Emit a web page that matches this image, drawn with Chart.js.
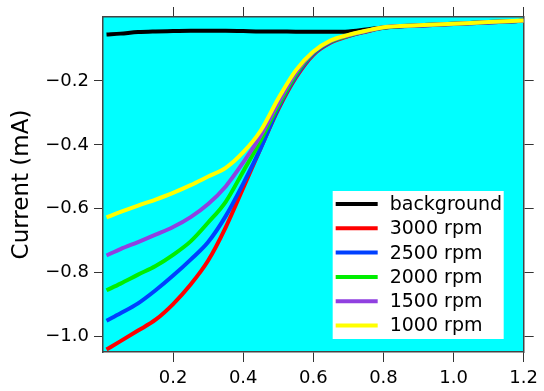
<!DOCTYPE html>
<html>
<head>
  <title>Current vs potential</title>
  <script src="https://cdn.jsdelivr.net/npm/chart.js"></script>
  <style>body { margin: 0; background: #fff; }</style>
</head>
<body>
  <canvas id="chart" width="544" height="391"></canvas>

  <script>
    // potential (x) and currents in mA
    const potential = [0.01, 0.05, 0.1, 0.15, 0.2, 0.25, 0.3, 0.35, 0.4, 0.45, 0.5, 0.55, 0.6, 0.65, 0.7, 0.75, 0.8, 0.9, 1.0, 1.1, 1.2];
    const background = [-0.055, -0.052, -0.047, -0.045, -0.044, -0.043, -0.043, -0.043, -0.044, -0.045, -0.045, -0.046, -0.046, -0.046, -0.045, -0.039, -0.033, -0.026, -0.021, -0.016, -0.012];
    const rpm3000 = [-1.040, -1.014, -0.981, -0.947, -0.898, -0.837, -0.762, -0.658, -0.535, -0.410, -0.289, -0.190, -0.118, -0.080, -0.060, -0.046, -0.034, -0.027, -0.022, -0.017, -0.012];
    const rpm2500 = [-0.950, -0.927, -0.896, -0.855, -0.809, -0.759, -0.704, -0.623, -0.521, -0.410, -0.284, -0.186, -0.115, -0.078, -0.059, -0.045, -0.033, -0.027, -0.022, -0.017, -0.012];
    const rpm2000 = [-0.855, -0.834, -0.806, -0.779, -0.744, -0.702, -0.643, -0.578, -0.483, -0.386, -0.277, -0.180, -0.112, -0.076, -0.058, -0.044, -0.033, -0.026, -0.021, -0.016, -0.012];
    const rpm1500 = [-0.746, -0.726, -0.704, -0.681, -0.657, -0.626, -0.585, -0.530, -0.455, -0.371, -0.268, -0.174, -0.110, -0.075, -0.057, -0.044, -0.032, -0.026, -0.021, -0.016, -0.012];
    const rpm1000 = [-0.627, -0.610, -0.590, -0.571, -0.550, -0.526, -0.499, -0.472, -0.423, -0.355, -0.255, -0.167, -0.108, -0.073, -0.056, -0.043, -0.032, -0.026, -0.021, -0.016, -0.011];

    const seriesLabels = ['background', '3000 rpm', '2500 rpm', '2000 rpm', '1500 rpm', '1000 rpm'];
    const seriesValues = [background, rpm3000, rpm2500, rpm2000, rpm1500, rpm1000];
    const seriesColors = ['#000000', '#ff0000', '#0040ff', '#00ee00', '#9040e0', '#ffff00'];

    const xTicks = [0.2, 0.4, 0.6, 0.8, 1.0, 1.2];
    const yTicks = [-1.0, -0.8, -0.6, -0.4, -0.2];

    Chart.defaults.font.family = 'DejaVu Sans';
    Chart.defaults.color = '#000';

    // cyan plot area
    const plotBackground = {
      id: 'plotBackground',
      beforeDraw(chart) {
        const a = chart.chartArea;
        const ctx = chart.ctx;
        ctx.save();
        ctx.fillStyle = '#00ffff';
        ctx.fillRect(a.left, a.top, a.right - a.left, a.bottom - a.top);
        ctx.restore();
      }
    };

    // white legend box inside the plot, lower right
    const boxLegend = {
      id: 'boxLegend',
      afterDraw(chart) {
        const a = chart.chartArea;
        const ctx = chart.ctx;
        const boxW = 171, boxH = 148;
        const x0 = a.right - 20 - boxW;
        const y0 = a.bottom - 13 - boxH;
        ctx.save();
        ctx.fillStyle = '#fff';
        ctx.fillRect(x0, y0, boxW, boxH);
        ctx.font = '19px "DejaVu Sans"';
        ctx.textBaseline = 'middle';
        chart.data.datasets.forEach((ds, i) => {
          const y = y0 + 13 + i * 24.3;
          ctx.strokeStyle = ds.borderColor;
          ctx.lineWidth = 4;
          ctx.beginPath();
          ctx.moveTo(x0 + 3, y);
          ctx.lineTo(x0 + 45, y);
          ctx.stroke();
          ctx.fillStyle = '#000';
          ctx.fillText(ds.label, x0 + 57, y + 1);
        });
        ctx.restore();
      }
    };

    const tickLabel = v => (v < 0 ? '\u2212' : '') + Math.abs(v).toFixed(1);
    const frame = { display: true, color: '#444', width: 1.5 };

    const ctx = document.getElementById('chart').getContext('2d');
    const chart = new Chart(ctx, {
      type: 'line',
      data: {
        datasets: seriesLabels.map((label, i) => ({
          label: label,
          data: potential.map((x, j) => ({ x: x, y: seriesValues[i][j] })),
          borderColor: seriesColors[i],
          backgroundColor: seriesColors[i],
          borderWidth: 4,
          pointRadius: 0,
          cubicInterpolationMode: 'monotone',
          fill: false,
          // yellow drawn on top, background underneath
          order: seriesLabels.length - 1 - i,
          xAxisID: 'x',
          yAxisID: 'y'
        }))
      },
      options: {
        responsive: false,
        animation: false,
        devicePixelRatio: 1,
        layout: { padding: 0 },
        plugins: {
          legend: { display: false },
          tooltip: { enabled: false }
        },
        scales: {
          x: {
            type: 'linear',
            position: 'bottom',
            min: 0,
            max: 1.2,
            afterBuildTicks: s => { s.ticks = xTicks.map(v => ({ value: v })); },
            afterFit: s => { s.height = 39; },
            ticks: { callback: tickLabel, font: { size: 18 }, padding: 6, maxRotation: 0 },
            grid: { drawOnChartArea: false, drawTicks: true, tickLength: 10, color: '#333' },
            border: frame
          },
          x2: {
            type: 'linear',
            position: 'top',
            min: 0,
            max: 1.2,
            afterBuildTicks: s => { s.ticks = xTicks.map(v => ({ value: v })); },
            afterFit: s => { s.height = 17; },
            ticks: { display: false },
            grid: { drawOnChartArea: false, drawTicks: true, tickLength: 10, color: '#333' },
            border: frame
          },
          y: {
            type: 'linear',
            position: 'left',
            min: -1.048,
            max: 0,
            afterBuildTicks: s => { s.ticks = yTicks.map(v => ({ value: v })); },
            afterFit: s => { s.width = 103; },
            ticks: { callback: tickLabel, font: { size: 18 }, padding: 5 },
            grid: { drawOnChartArea: false, drawTicks: true, tickLength: 9, color: '#333' },
            border: frame,
            title: {
              display: true,
              text: 'Current (mA)',
              font: { size: 23 },
              padding: { top: 8, bottom: 0 }
            }
          },
          y2: {
            type: 'linear',
            position: 'right',
            min: -1.048,
            max: 0,
            afterBuildTicks: s => { s.ticks = yTicks.map(v => ({ value: v })); },
            afterFit: s => { s.width = 17; },
            ticks: { display: false },
            grid: { drawOnChartArea: false, drawTicks: true, tickLength: 10, color: '#333' },
            border: frame
          }
        }
      },
      plugins: [plotBackground, boxLegend]
    });
  </script>
</body>
</html>
